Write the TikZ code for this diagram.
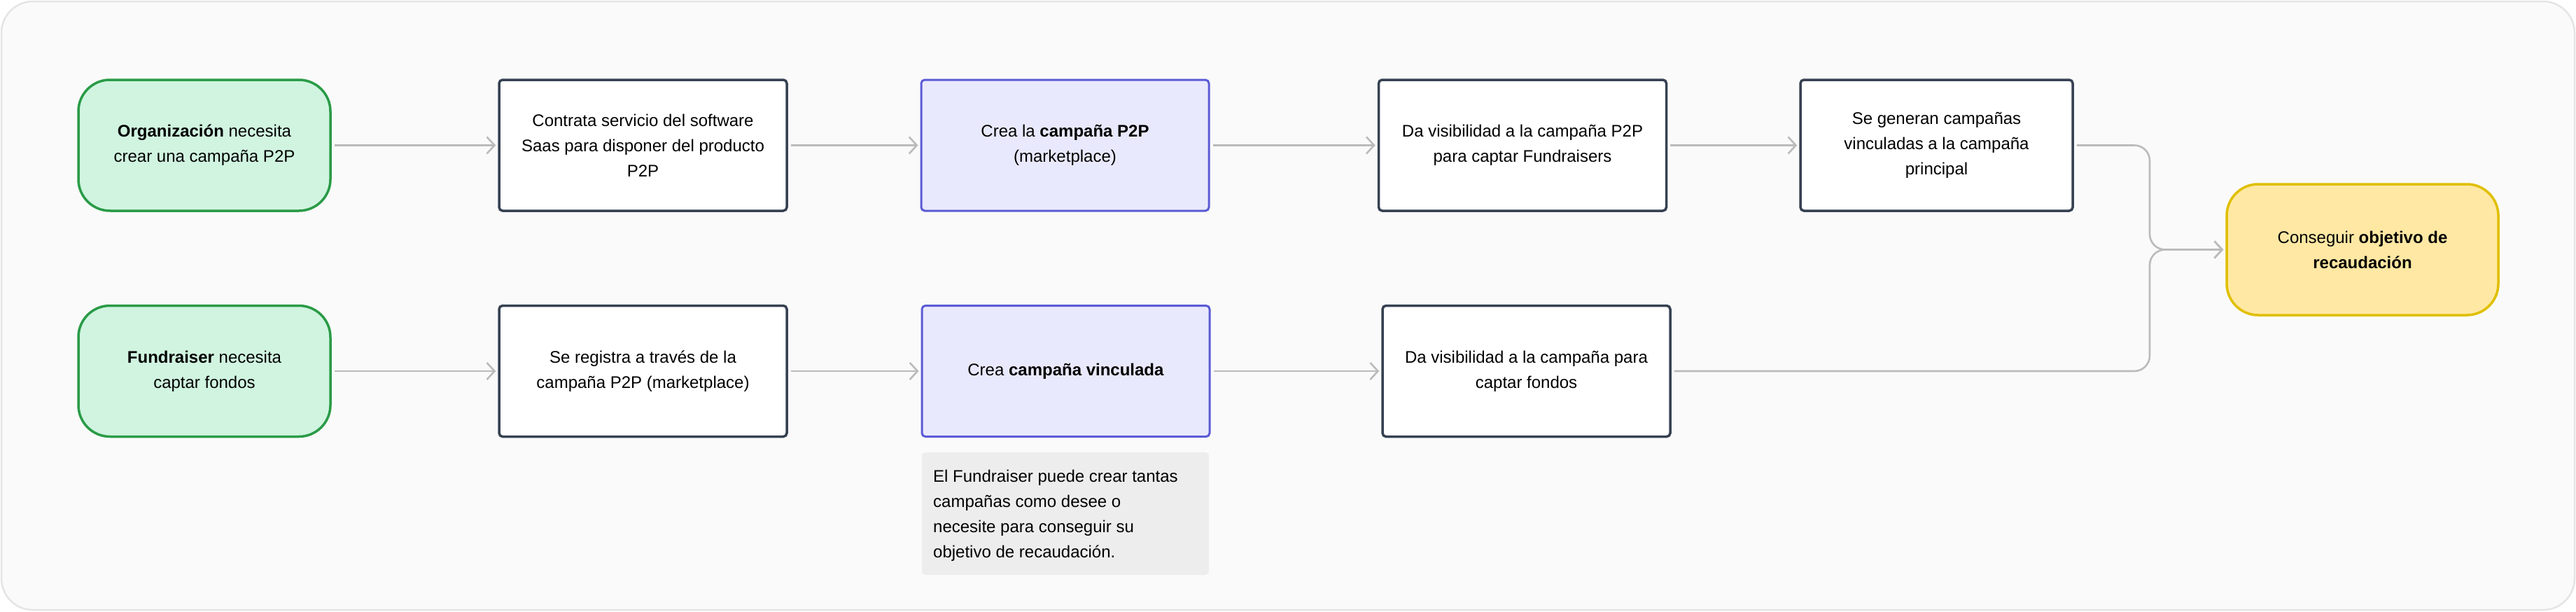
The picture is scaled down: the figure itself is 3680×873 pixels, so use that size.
\documentclass[tikz,border=0pt]{standalone}
\usepackage{fontspec}
\setmainfont{Liberation Sans}
\usetikzlibrary{arrows.meta}
\definecolor{bgc}{HTML}{FAFAFA}
\definecolor{bgline}{HTML}{E4E4E4}
\definecolor{greenfill}{HTML}{D0F4E0}
\definecolor{greenline}{HTML}{2A9B47}
\definecolor{darkline}{HTML}{364152}
\definecolor{purplefill}{HTML}{E9E9FD}
\definecolor{purpleline}{HTML}{5B5BD6}
\definecolor{yellowfill}{HTML}{FFE8A3}
\definecolor{yellowline}{HTML}{E0BF00}
\definecolor{notefill}{HTML}{EDEDED}
\definecolor{arrowc}{HTML}{BBBBBB}
\begin{document}
\begin{tikzpicture}[x=1pt,y=-1pt,
 base/.style={inner sep=0pt, minimum height=187pt, align=center, font=\fontsize{24}{36}\selectfont, text=black},
 startbox/.style={base, rounded corners=45pt, fill=greenfill, draw=greenline, line width=3.5pt, minimum width=360pt},
 plainbox/.style={base, rounded corners=5pt, fill=white, draw=darkline, line width=3.5pt, minimum width=411pt},
 campbox/.style={base, rounded corners=5pt, fill=purplefill, draw=purpleline, line width=3pt, minimum width=411pt},
 goalbox/.style={base, rounded corners=45pt, fill=yellowfill, draw=yellowline, line width=3.5pt, minimum width=388pt},
 notebox/.style={inner sep=0pt, rounded corners=5pt, fill=notefill, minimum width=410pt, minimum height=175pt},
 notetxt/.style={inner sep=0pt, align=left, anchor=west, font=\fontsize{24}{36}\selectfont, text=black},
 flow/.style={draw=arrowc, line width=2.6pt, -{Straight Barb[length=11pt,width=24pt,line width=2.6pt]}, shorten <=4pt, shorten >=3pt}
]
\useasboundingbox (0,0) rectangle (3680,873);
\draw[fill=bgc, draw=bgline, line width=2.5pt, rounded corners=45pt] (2,2) rectangle (3678,871);

% top row
\node[startbox] (o1) at (292,207.5) {\textbf{Organización} necesita\\crear una campaña P2P};
\node[plainbox] (o2) at (918.5,207.5) {Contrata servicio del software\\Saas para disponer del producto\\P2P};
\node[campbox] (o3) at (1521.5,207.5) {Crea la \textbf{campaña P2P}\\(marketplace)};
\node[plainbox] (o4) at (2175,207.5) {Da visibilidad a la campaña P2P\\para captar Fundraisers};
\node[plainbox, minimum width=389pt] (o5) at (2766.5,207.5) {Se generan campañas\\vinculadas a la campaña\\principal};

% bottom row
\node[startbox] (f1) at (292,530) {\textbf{Fundraiser} necesita\\captar fondos};
\node[plainbox] (f2) at (918.5,530) {Se registra a través de la\\campaña P2P (marketplace)};
\node[campbox] (f3) at (1522.5,530) {Crea \textbf{campaña vinculada}};
\node[plainbox] (f4) at (2180.5,530) {Da visibilidad a la campaña para\\captar fondos};

% note
\node[notebox] (note) at (1522,733.5) {};
\node[notetxt] (notetext) at (1333,736) {El Fundraiser puede crear tantas\\campañas como desee o\\necesite para conseguir su\\objetivo de recaudación.};

% goal
\node[goalbox] (goal) at (3375,356.5) {Conseguir \textbf{objetivo de}\\\textbf{recaudación}};

\coordinate (j) at (3071,356.5);

\draw[flow] (o1) -- (o2);
\draw[flow] (o2) -- (o3);
\draw[flow] (o3) -- (o4);
\draw[flow] (o4) -- (o5);
\draw[flow] (f1) -- (f2);
\draw[flow] (f2) -- (f3);
\draw[flow] (f3) -- (f4);
\draw[flow, rounded corners=22pt] (o5.east) -| (j) -- (goal.west);
\draw[flow, rounded corners=22pt] (f4.east) -| (j) -- (goal.west);
\end{tikzpicture}
\end{document}
